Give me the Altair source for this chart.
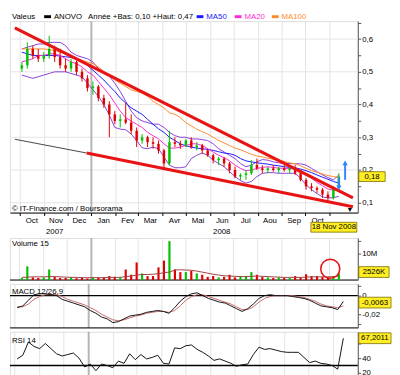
import altair as alt
import pandas as pd

# ---------------- data ----------------
week_start = "2007-10-04"
opens = [0.51, 0.52, 0.57, 0.55, 0.54, 0.55, 0.57, 0.545, 0.52, 0.51,
         0.53, 0.50, 0.48, 0.45, 0.455, 0.42, 0.40, 0.37, 0.35, 0.355,
         0.345, 0.32, 0.29, 0.30, 0.285, 0.28, 0.26, 0.22, 0.285, 0.28,
         0.275, 0.29, 0.27, 0.275, 0.26, 0.245, 0.23, 0.235, 0.22, 0.20,
         0.18, 0.185, 0.19, 0.215, 0.205, 0.20, 0.205, 0.20, 0.205, 0.20,
         0.205, 0.19, 0.17, 0.15, 0.145, 0.14, 0.125, 0.115, 0.145]
highs = [0.53, 0.59, 0.58, 0.57, 0.56, 0.61, 0.58, 0.57, 0.54, 0.54,
         0.535, 0.51, 0.49, 0.47, 0.46, 0.43, 0.41, 0.38, 0.37, 0.405,
         0.37, 0.33, 0.31, 0.305, 0.30, 0.29, 0.265, 0.32, 0.30, 0.29,
         0.295, 0.30, 0.285, 0.28, 0.265, 0.25, 0.24, 0.24, 0.225, 0.21,
         0.19, 0.20, 0.23, 0.235, 0.215, 0.21, 0.215, 0.21, 0.215, 0.21,
         0.215, 0.20, 0.175, 0.16, 0.15, 0.145, 0.135, 0.15, 0.19]
lows = [0.50, 0.51, 0.54, 0.53, 0.53, 0.54, 0.53, 0.51, 0.50, 0.50,
        0.49, 0.47, 0.44, 0.43, 0.41, 0.39, 0.30, 0.34, 0.33, 0.34,
        0.31, 0.27, 0.28, 0.27, 0.265, 0.25, 0.205, 0.215, 0.27, 0.265,
        0.27, 0.265, 0.26, 0.25, 0.24, 0.22, 0.215, 0.21, 0.19, 0.175,
        0.17, 0.17, 0.185, 0.20, 0.19, 0.19, 0.195, 0.19, 0.195, 0.19,
        0.185, 0.165, 0.14, 0.135, 0.13, 0.115, 0.10, 0.11, 0.14]
closes = [0.52, 0.57, 0.55, 0.54, 0.55, 0.57, 0.545, 0.52, 0.51, 0.53,
          0.50, 0.48, 0.45, 0.455, 0.42, 0.40, 0.37, 0.35, 0.355, 0.345,
          0.32, 0.29, 0.30, 0.285, 0.28, 0.26, 0.22, 0.285, 0.28, 0.275,
          0.29, 0.27, 0.275, 0.26, 0.245, 0.23, 0.235, 0.22, 0.20, 0.18,
          0.185, 0.19, 0.215, 0.205, 0.20, 0.205, 0.20, 0.205, 0.20, 0.205,
          0.19, 0.17, 0.15, 0.145, 0.14, 0.125, 0.115, 0.145, 0.18]
volumes = [0.8, 5.2, 1.0, 0.8, 1.0, 4.0, 1.2, 0.8, 0.8, 1.0,
           0.7, 0.8, 0.6, 0.9, 1.0, 1.0, 1.5, 1.2, 1.0, 4.0,
           2.0, 6.7, 2.5, 1.5, 1.5, 4.8, 7.4, 14.8, 4.0, 3.0,
           3.0, 3.5, 2.5, 2.0, 1.2, 1.5, 1.0, 1.2, 2.0, 1.0,
           1.5, 1.5, 3.0, 2.0, 1.2, 1.0, 0.8, 1.0, 0.8, 0.8,
           1.5, 1.0, 2.2, 1.5, 1.5, 1.2, 1.0, 1.5, 2.53]
vol_avg = [1.0, 1.1, 1.2, 1.2, 1.2, 1.3, 1.3, 1.2, 1.1, 1.0,
           1.0, 0.9, 0.9, 0.9, 0.9, 0.9, 1.0, 1.0, 1.0, 1.3,
           1.5, 1.9, 2.1, 2.1, 2.2, 2.4, 2.8, 3.0, 3.8, 3.9,
           3.8, 3.7, 3.4, 3.0, 2.6, 2.2, 1.9, 1.6, 1.5, 1.4,
           1.3, 1.3, 1.4, 1.5, 1.4, 1.3, 1.2, 1.1, 1.0, 1.0,
           1.0, 1.0, 1.1, 1.2, 1.2, 1.2, 1.2, 1.3, 1.5]
ma20 = [0.53, 0.535, 0.54, 0.55, 0.55, 0.555, 0.555, 0.55, 0.54, 0.53,
        0.525, 0.515, 0.50, 0.49, 0.47, 0.45, 0.43, 0.405, 0.38, 0.36,
        0.35, 0.34, 0.33, 0.315, 0.305, 0.295, 0.28, 0.267, 0.267, 0.27,
        0.275, 0.28, 0.28, 0.275, 0.265, 0.255, 0.245, 0.238, 0.228, 0.215,
        0.205, 0.198, 0.20, 0.205, 0.208, 0.21, 0.208, 0.206, 0.205, 0.205,
        0.203, 0.198, 0.188, 0.175, 0.162, 0.152, 0.142, 0.138, 0.14]
ma50 = [0.56, 0.555, 0.55, 0.55, 0.55, 0.55, 0.55, 0.548, 0.546, 0.544,
        0.54, 0.53, 0.52, 0.505, 0.49, 0.475, 0.457, 0.44, 0.42, 0.405,
        0.39, 0.38, 0.37, 0.355, 0.34, 0.326, 0.315, 0.30, 0.29, 0.28,
        0.274, 0.27, 0.267, 0.265, 0.263, 0.26, 0.256, 0.252, 0.25, 0.245,
        0.235, 0.228, 0.225, 0.222, 0.22, 0.218, 0.215, 0.213, 0.21, 0.208,
        0.207, 0.203, 0.198, 0.192, 0.185, 0.178, 0.172, 0.165, 0.16]
ma100 = [0.57, 0.57, 0.57, 0.57, 0.57, 0.568, 0.565, 0.56, 0.555, 0.55,
         0.54, 0.535, 0.53, 0.525, 0.515, 0.50, 0.49, 0.475, 0.465, 0.455,
         0.445, 0.44, 0.435, 0.425, 0.41, 0.40, 0.39, 0.375, 0.37, 0.36,
         0.345, 0.335, 0.325, 0.317, 0.31, 0.30, 0.29, 0.283, 0.275, 0.267,
         0.262, 0.255, 0.248, 0.243, 0.24, 0.236, 0.233, 0.23, 0.226, 0.222,
         0.219, 0.213, 0.205, 0.198, 0.193, 0.188, 0.183, 0.18, 0.177]
bb_up = [0.57, 0.575, 0.58, 0.585, 0.585, 0.59, 0.59, 0.59, 0.58, 0.56,
         0.55, 0.545, 0.54, 0.53, 0.51, 0.495, 0.487, 0.465, 0.44, 0.41,
         0.38, 0.36, 0.35, 0.345, 0.34, 0.34, 0.33, 0.315, 0.305, 0.30,
         0.30, 0.295, 0.295, 0.293, 0.29, 0.28, 0.265, 0.255, 0.245, 0.235,
         0.22, 0.21, 0.215, 0.225, 0.232, 0.23, 0.225, 0.222, 0.22, 0.22,
         0.219, 0.219, 0.215, 0.205, 0.195, 0.185, 0.177, 0.17, 0.185]
bb_low = [0.49, 0.485, 0.48, 0.485, 0.49, 0.495, 0.50, 0.50, 0.50, 0.495,
          0.49, 0.485, 0.465, 0.445, 0.425, 0.40, 0.368, 0.33, 0.325, 0.323,
          0.31, 0.29, 0.268, 0.265, 0.27, 0.265, 0.24, 0.215, 0.207, 0.207,
          0.21, 0.235, 0.245, 0.252, 0.245, 0.23, 0.22, 0.21, 0.195, 0.18,
          0.168, 0.16, 0.165, 0.18, 0.19, 0.192, 0.192, 0.19, 0.19, 0.19,
          0.19, 0.175, 0.155, 0.14, 0.128, 0.118, 0.115, 0.115, 0.12]
macd = [-0.013, -0.011, -0.005, 0.001, 0.002, 0.002, 0.001, 0.000, -0.004, -0.006,
        -0.008, -0.010, -0.012, -0.016, -0.019, -0.023, -0.025, -0.029, -0.028, -0.025,
        -0.022, -0.021, -0.020, -0.018, -0.017, -0.016, -0.017, -0.019, -0.013, -0.006,
        -0.001, 0.002, 0.003, 0.000, -0.003, -0.005, -0.007, -0.008, -0.011, -0.014,
        -0.017, -0.014, -0.009, -0.003, 0.000, 0.001, 0.000, 0.000, 0.000, -0.001,
        -0.002, -0.003, -0.005, -0.008, -0.011, -0.012, -0.013, -0.015, -0.0063]
macd_signal = [-0.012, -0.012, -0.009, -0.004, -0.001, 0.001, 0.001, 0.001, -0.001, -0.004,
               -0.006, -0.008, -0.010, -0.013, -0.016, -0.020, -0.023, -0.026, -0.027, -0.026,
               -0.024, -0.022, -0.021, -0.019, -0.018, -0.017, -0.017, -0.018, -0.016, -0.011,
               -0.005, -0.001, 0.001, 0.001, -0.001, -0.003, -0.005, -0.007, -0.009, -0.012,
               -0.015, -0.015, -0.012, -0.007, -0.003, -0.001, 0.000, 0.000, 0.000, 0.000,
               -0.001, -0.002, -0.004, -0.006, -0.009, -0.011, -0.012, -0.013, -0.011]
rsi = [39, 44, 62, 56, 53, 60, 53, 46, 43, 45,
       47, 40, 28, 32, 23, 32, 30, 27, 36, 33,
       46, 38, 45, 39, 41, 44, 33, 32, 54, 53,
       57, 58, 52, 48, 43, 37, 39, 36, 33, 29,
       31, 32, 45, 55, 52, 53, 51, 49, 48, 48,
       48, 41, 34, 36, 33, 32, 30, 25, 67.2]

# trend lines drawn on the price chart (date, price)
top_trend_dates = ["2007-09-25", "2008-12-01"]
top_trend_vals = [0.634, 0.115]
low_trend_dates = ["2007-12-26", "2008-12-01"]
low_trend_vals = [0.252, 0.088]
old_line_dates = ["2007-09-25", "2007-12-26"]
old_line_vals = [0.294, 0.252]
arrow_dates = ["2008-11-21", "2008-11-13"]
arrow_from = [0.170, 0.178]
arrow_to = [0.222, 0.146]
arrow_heads = ["triangle-up", "triangle-down"]
circle_dates = ["2008-11-02"]
circle_vols = [4.3]
year_sep = ["2008-01-01"]
price_grid = [0.1, 0.2, 0.3, 0.4, 0.5, 0.6]
year_label_dates = ["2007-11-15", "2008-06-16"]
year_labels = ["2007", "2008"]
months_fr = ["Jan", "Fev", "Mar", "Avr", "Mai", "Jun", "Jul", "Aou", "Sep", "Oct", "Nov", "Dec"]
month_ticks = [(2007, 10), (2007, 11), (2007, 12)] + [(2008, m) for m in range(1, 12)]
last_price_txt = "0,18"
last_vol_txt = "2526K"
last_macd_txt = "-0,0063"
last_rsi_txt = "67,2011"
last_date_txt = "18 Nov 2008"

# ---------------- frames ----------------
dates = pd.date_range(week_start, periods=len(closes), freq="7D").strftime("%Y-%m-%d").tolist()
df = pd.DataFrame({"date": dates, "open": opens, "high": highs, "low": lows, "close": closes,
                   "vol": volumes, "volavg": vol_avg, "ma20": ma20, "ma50": ma50, "ma100": ma100,
                   "bbu": bb_up, "bbl": bb_low, "macd": macd, "sig": macd_signal, "rsi": rsi})
df["dir"] = ["up" if c >= o else "down" for o, c in zip(opens, closes)]
month_starts = pd.DataFrame({"d": ["%d-%02d-01" % (y, m) for y, m in month_ticks]})

W = 356
H_MAIN, H_VOL, H_MACD, H_RSI = 196, 43, 45, 45
FONT = "Liberation Sans"
FS = 8

xs = alt.Scale(domain=[alt.DateTime(year=2007, month=9, date=25),
                       alt.DateTime(year=2008, month=12, date=1)], nice=False)
tick_vals = [alt.DateTime(year=y, month=m, date=1) for y, m in month_ticks]
month_arr = "[" + ",".join("'%s'" % m for m in months_fr) + "]"
main_xaxis = alt.Axis(values=tick_vals, title=None, labelOffset=12, tickSize=3, labelPadding=1,
                      labelExpr="(year(datum.value) == 2008 && month(datum.value) == 10) ? '' : "
                                + month_arr + "[month(datum.value)]",
                      domainColor="black", tickColor="black", grid=True, gridColor="#e3e3e3",
                      labelFlush=False, labelOverlap=False, labelAngle=0, labelFontSize=FS,
                      labelColor="black", labelFont=FONT)

dir_color = alt.Color("dir:N", scale=alt.Scale(domain=["up", "down"], range=["#00c000", "#e00000"]),
                      legend=None)


def make_x(axis):
    return lambda f="date": alt.X(f, type="temporal", scale=xs, axis=axis)


def make_y(scale, axis):
    return lambda f: alt.Y(f, type="quantitative", scale=scale, axis=axis)


def right_axis(values, label_expr):
    return alt.Axis(orient="right", title=None, grid=False, values=values, labelExpr=label_expr,
                    tickSize=3, labelPadding=1, domainColor="#555", tickColor="#555",
                    labelFontSize=FS, labelColor="black", labelFont=FONT)


def year_rule(X):
    return alt.Chart(pd.DataFrame({"d": year_sep})).mark_rule(color="#b5b5b5", strokeWidth=2).encode(x=X("d"))


def sub_frame(X, H):
    grid = alt.Chart(month_starts).mark_rule(color="#e3e3e3").encode(x=X("d"))
    bottom = alt.Chart(pd.DataFrame({"b": [0]})).mark_rule(color="black", strokeWidth=1).encode(
        x=alt.value(0), x2=alt.value(W), y=alt.value(H))
    return [grid, year_rule(X), bottom]


def right_tag(Y, value, text, width, half=5.5):
    d = pd.DataFrame({"v": [value], "t": [text]})
    box = alt.Chart(d).mark_rect(fill="#ffee22", stroke="#7a6a00", strokeWidth=0.8,
                                 yOffset=-half, y2Offset=half).encode(
        x=alt.value(W + 1), x2=alt.value(W + 1 + width), y=Y("v"), y2="v:Q")
    txt = alt.Chart(d).mark_text(fontSize=FS, font=FONT, align="center", baseline="middle").encode(
        x=alt.value(W + 1 + width / 2), y=Y("v"), text="t:N")
    return [box, txt]


def label(text, x, y, color="black", size=FS, align="left"):
    return alt.Chart(pd.DataFrame({"t": [text]})).mark_text(
        fontSize=size, font=FONT, align=align, baseline="middle", color=color).encode(
        x=alt.value(x), y=alt.value(y), text="t:N")


def swatch(x, y, color):
    return alt.Chart(pd.DataFrame({"c": [color]})).mark_rect(color=color).encode(
        x=alt.value(x), x2=alt.value(x + 7), y=alt.value(y - 1.5), y2=alt.value(y + 1.5))


# ---------------- main price panel ----------------
X = make_x(main_xaxis)
ys_main = alt.Scale(domain=[0.07, 0.655], nice=False, zero=False)
Y = make_y(ys_main, right_axis([0.1, 0.15, 0.2, 0.25, 0.3, 0.35, 0.4, 0.45, 0.5, 0.55, 0.6, 0.65],
                               "abs(round(datum.value*20)) % 2 == 1 ? '' : replace(format(datum.value, '.1f'), '.', ',')"))

base = alt.Chart(df)
layers = []
layers.append(alt.Chart(pd.DataFrame({"g": price_grid})).mark_rule(color="#e3e3e3").encode(y=Y("g")))
layers.append(year_rule(X))
layers.append(alt.Chart(pd.DataFrame({"d": old_line_dates, "v": old_line_vals}))
              .mark_line(color="#444", strokeWidth=1, clip=True).encode(x=X("d"), y=Y("v")))
layers.append(base.mark_line(color="#8a3fd8", strokeWidth=1).encode(x=X(), y=Y("bbu")))
layers.append(base.mark_line(color="#8a3fd8", strokeWidth=1).encode(x=X(), y=Y("bbl")))
layers.append(base.mark_line(color="#ff8a2a", strokeWidth=1).encode(x=X(), y=Y("ma100")))
layers.append(base.mark_line(color="#1a1aff", strokeWidth=1).encode(x=X(), y=Y("ma50")))
layers.append(base.mark_line(color="#ff2bd6", strokeWidth=1).encode(x=X(), y=Y("ma20")))
layers.append(base.mark_rule(strokeWidth=1).encode(x=X(), y=Y("low"), y2="high:Q", color=dir_color))
layers.append(base.mark_bar(width=2.5).encode(x=X(), y=Y("open"), y2="close:Q", color=dir_color))
layers.append(alt.Chart(pd.DataFrame({"d": top_trend_dates, "v": top_trend_vals}))
              .mark_line(color="#e81414", strokeWidth=3.2, clip=True).encode(x=X("d"), y=Y("v")))
layers.append(alt.Chart(pd.DataFrame({"d": low_trend_dates, "v": low_trend_vals}))
              .mark_line(color="#e81414", strokeWidth=3.2, clip=True).encode(x=X("d"), y=Y("v")))
arr = pd.DataFrame({"d": arrow_dates, "a": arrow_from, "b": arrow_to, "s": arrow_heads})
layers.append(alt.Chart(arr).mark_rule(color="#2f86ff", strokeWidth=2).encode(x=X("d"), y=Y("a"), y2="b:Q"))
layers.append(alt.Chart(arr).mark_point(color="#2f86ff", filled=True, size=30, opacity=1).encode(
    x=X("d"), y=Y("b"), shape=alt.Shape("s:N", scale=None)))
# header line
HY = -4.5
layers.append(label("Valeus", 2, HY))
layers.append(swatch(35, HY, "black"))
layers.append(label("ANOVO", 45, HY))
layers.append(label("Ann\u00e9e +Bas: 0,10 +Haut: 0,47", 80, HY))
layers.append(swatch(191, HY, "#1a1aff"))
layers.append(label("MA50", 201, HY, color="#1a1aff"))
layers.append(swatch(230, HY, "#ff2bd6"))
layers.append(label("MA20", 240, HY, color="#ff2bd6"))
layers.append(swatch(268, HY, "#ff8a2a"))
layers.append(label("MA100", 278, HY, color="#ff8a2a"))
layers.append(label("\u00a9 IT-Finance.com / Boursorama", 2, H_MAIN - 4))
layers.append(label("\u25bc", W - 8, H_MAIN - 3, size=7, align="center"))
layers += right_tag(Y, closes[-1], last_price_txt, 27, half=5)
# date tag under the axis
layers.append(alt.Chart(pd.DataFrame({"t": [last_date_txt]})).mark_rect(
    fill="#ffee22", stroke="#7a6a00", strokeWidth=0.8).encode(
    x=alt.value(W - 48), x2=alt.value(W - 1), y=alt.value(H_MAIN + 10), y2=alt.value(H_MAIN + 20)))
layers.append(label(last_date_txt, W - 24.5, H_MAIN + 15, align="center"))
layers.append(alt.Chart(pd.DataFrame({"d": year_label_dates, "t": year_labels})).mark_text(
    fontSize=FS, font=FONT, baseline="middle").encode(x=X("d"), y=alt.value(H_MAIN + 19.5), text="t:N"))
main = alt.layer(*layers).properties(width=W, height=H_MAIN)

# ---------------- volume panel ----------------
Xs = make_x(None)
Yv = make_y(alt.Scale(domain=[0, 16], nice=False),
            right_axis([5, 10, 15], "datum.value == 10 ? '10M' : ''"))
vl = sub_frame(Xs, H_VOL)
vl.append(base.mark_bar(width=2.2).encode(x=Xs(), y=Yv("vol"), color=dir_color))
vl.append(base.mark_line(color="#a04040", strokeWidth=1).encode(x=Xs(), y=Yv("volavg")))
vl.append(alt.Chart(pd.DataFrame({"d": circle_dates, "v": circle_vols})).mark_point(
    shape="circle", size=380, filled=False, color="#e81414", strokeWidth=1.6, opacity=1,
    clip=True).encode(x=Xs("d"), y=Yv("v")))
vl.append(label("Volume 15", 2, 6))
vl += right_tag(Yv, volumes[-1] + 0.5, last_vol_txt, 31)
vol = alt.layer(*vl).properties(width=W, height=H_VOL)

# ---------------- MACD panel ----------------
Ym = make_y(alt.Scale(domain=[-0.0347, 0.0126], nice=False, zero=False),
            right_axis([-0.03, -0.02, -0.01, 0, 0.01],
                       "round(datum.value*1000) == 0 ? '0' : (round(datum.value*1000) == -20 ? '-0,02' : '')"))
ml = sub_frame(Xs, H_MACD)
ml.append(alt.Chart(pd.DataFrame({"z": [0]})).mark_rule(color="black", strokeWidth=1.3).encode(y=Ym("z")))
ml.append(base.mark_line(color="#c86a6a", strokeWidth=1).encode(x=Xs(), y=Ym("sig")))
ml.append(base.mark_line(color="#111", strokeWidth=1).encode(x=Xs(), y=Ym("macd")))
ml.append(label("MACD 12/26,9", 2, 8))
ml += right_tag(Ym, macd[-1] - 0.0012, last_macd_txt, 33)
macd_chart = alt.layer(*ml).properties(width=W, height=H_MACD)

# ---------------- RSI panel ----------------
Yr = make_y(alt.Scale(domain=[16, 76], nice=False, zero=False),
            right_axis([20, 40, 60], "datum.value == 60 ? '' : format(datum.value, 'd')"))
rl = sub_frame(Xs, H_RSI)
rl.append(alt.Chart(pd.DataFrame({"z": [30]})).mark_rule(color="black", strokeWidth=1.3).encode(y=Yr("z")))
rl.append(base.mark_line(color="#111", strokeWidth=1).encode(x=Xs(), y=Yr("rsi")))
rl.append(label("RSI 14", 2, 9))
rl += right_tag(Yr, rsi[-1], last_rsi_txt, 33)
rsi_chart = alt.layer(*rl).properties(width=W, height=H_RSI)

chart = alt.vconcat(main, vol, macd_chart, rsi_chart, spacing=0).properties(
    padding={"left": 0, "top": 0, "right": 0, "bottom": 0}
).configure_view(stroke="#bdbdbd", strokeWidth=1).configure(
    font=FONT, background="white")

chart.save("out.html", embed_options={"renderer": "svg", "actions": False})
